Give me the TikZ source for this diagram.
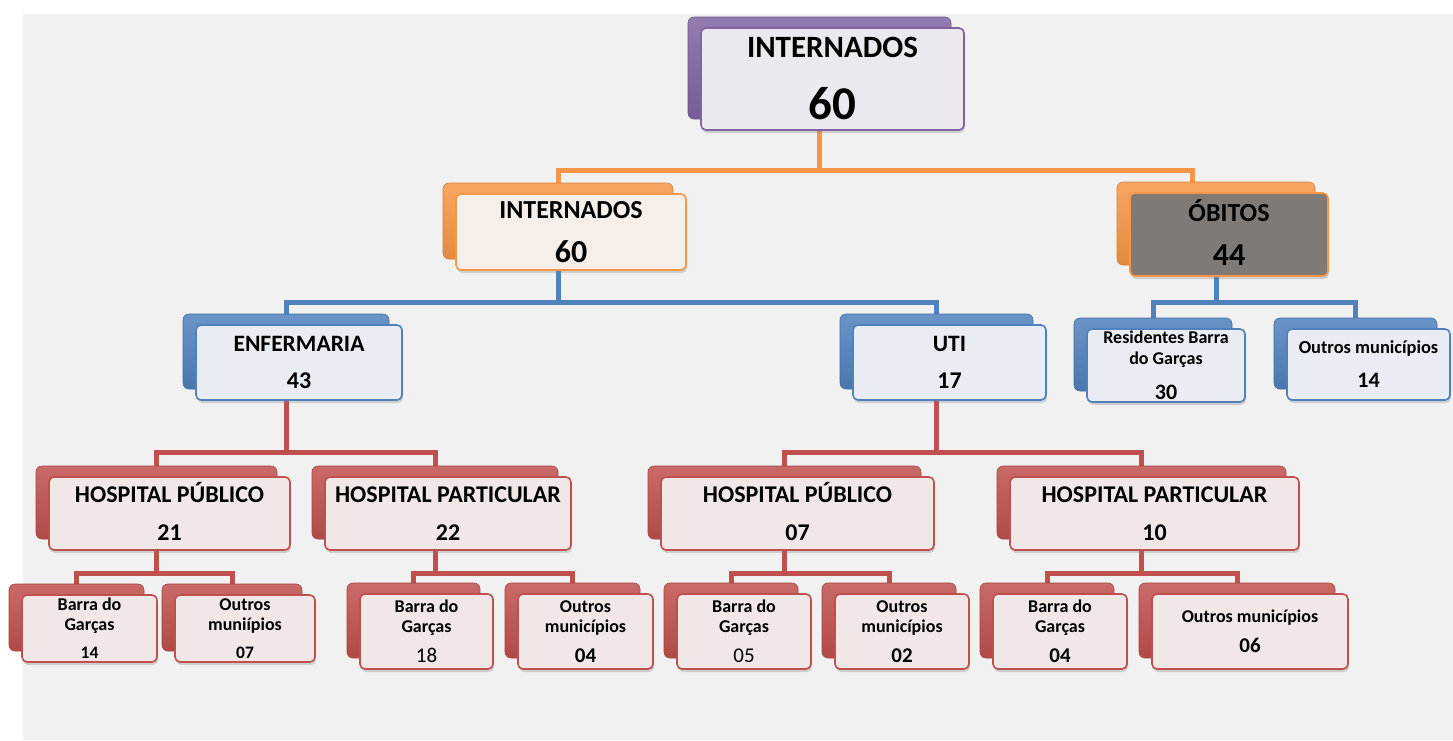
\documentclass[tikz,border=0pt]{standalone}
\usepackage{fontspec}
\setmainfont{Carlito}
\usepackage{tikz}
\usetikzlibrary{calc, backgrounds, shadows}

\definecolor{fundo}{HTML}{F1F1F1}
\definecolor{roxo}{HTML}{8064A2}
\definecolor{roxoclaro}{HTML}{EBE8F0}
\definecolor{laranja}{HTML}{F79646}
\definecolor{laranjaclaro}{HTML}{F6EEE9}
\definecolor{azul}{HTML}{4F81BD}
\definecolor{azulclaro}{HTML}{E9EDF3}
\definecolor{vermelho}{HTML}{C0504D}
\definecolor{vermelhoclaro}{HTML}{F2E7E7}
\definecolor{cinza}{HTML}{7F7A76}

\begin{document}
\begin{tikzpicture}[x=1pt, y=-1pt,
  tam/.style 2 args={minimum width=#1, minimum height=#2},
  atras/.style={rectangle, rounded corners=6pt, draw=#1!85!black, line width=0.6pt,
    top color=#1!85!white, bottom color=#1!92!black, inner sep=0pt},
  frente/.style 2 args={rectangle, rounded corners=5pt, draw=#1, line width=1.6pt,
    fill=#2, align=center, inner sep=0pt,
    drop shadow={opacity=0.3, shadow xshift=1pt, shadow yshift=-3pt}},
  txt/.style 2 args={font=\bfseries\fontsize{#1}{#2}\selectfont},
  liga/.style={line width=5pt, color=#1}]
\useasboundingbox (0,0) rectangle (1453,740);
% Nivel 1
\node[atras=roxo, tam={263}{102}] (internados) at (819.5,68) {};
\node[frente={roxo}{roxoclaro}, tam={263}{102}, txt={31}{62}] (internados-f) at ($(internados)+(13,11)$)
  {INTERNADOS\\{\fontsize{47}{47}\selectfont 60}};
% Nivel 2
\node[atras=laranja, tam={230}{76}] (internados2) at (558,221) {};
\node[frente={laranja}{laranjaclaro}, tam={230}{76}, txt={26}{44}] (internados2-f) at ($(internados2)+(13,11)$)
  {INTERNADOS\\{\fontsize{32}{32}\selectfont 60}};
\node[atras=laranja, tam={198}{83}] (obitos) at (1216,223.5) {};
\node[frente={laranja}{cinza}, tam={198}{83}, txt={26}{44}] (obitos-f) at ($(obitos)+(13,11)$)
  {\smash{Ó}BITOS\\{\fontsize{32}{32}\selectfont 44}};
% Nivel 3
\node[atras=azul, tam={206}{75}] (enfermaria) at (286,351.5) {};
\node[frente={azul}{azulclaro}, tam={206}{75}, txt={23.5}{37}] (enfermaria-f) at ($(enfermaria)+(13,11)$)
  {ENFERMARIA\\{\fontsize{24}{24}\selectfont 43}};
\node[atras=azul, tam={193}{75}] (uti) at (936.5,351.5) {};
\node[frente={azul}{azulclaro}, tam={193}{75}, txt={23.5}{37}] (uti-f) at ($(uti)+(13,11)$)
  {UTI\\{\fontsize{24}{24}\selectfont 17}};
\node[atras=azul, tam={158}{73}] (residentes) at (1153,354.5) {};
\node[frente={azul}{azulclaro}, tam={158}{73}, txt={18}{21}] (residentes-f) at ($(residentes)+(13,11)$)
  {Residentes Barra\\do Garças\\[14pt]{\fontsize{22}{22}\selectfont 30}};
\node[atras=azul, tam={163}{71}] (outrosob) at (1355.5,353.5) {};
\node[frente={azul}{azulclaro}, tam={163}{71}, txt={18.4}{34}] (outrosob-f) at ($(outrosob)+(13,11)$)
  {Outros municípios\\{\fontsize{22}{22}\selectfont 14}};
% Nivel 4
\node[atras=vermelho, tam={241}{73}] (pubenf) at (156.5,502.5) {};
\node[frente={vermelho}{vermelhoclaro}, tam={241}{73}, txt={24}{38}] (pubenf-f) at ($(pubenf)+(13,11)$)
  {HOSPITAL P\smash{Ú}BLICO\\21};
\node[atras=vermelho, tam={246}{73}] (partenf) at (435,502.5) {};
\node[frente={vermelho}{vermelhoclaro}, tam={246}{73}, txt={24}{38}] (partenf-f) at ($(partenf)+(13,11)$)
  {HOSPITAL PARTICULAR\\22};
\node[atras=vermelho, tam={273}{73}] (pubuti) at (784.5,502.5) {};
\node[frente={vermelho}{vermelhoclaro}, tam={273}{73}, txt={24}{38}] (pubuti-f) at ($(pubuti)+(13,11)$)
  {HOSPITAL P\smash{Ú}BLICO\\07};
\node[atras=vermelho, tam={289}{73}] (partuti) at (1141.5,502.5) {};
\node[frente={vermelho}{vermelhoclaro}, tam={289}{73}, txt={24}{38}] (partuti-f) at ($(partuti)+(13,11)$)
  {HOSPITAL PARTICULAR\\10};
% Nivel 5
\node[atras=vermelho, tam={135}{67}] (barra1) at (76.5,617.5) {};
\node[frente={vermelho}{vermelhoclaro}, tam={135}{67}, txt={18}{20}] (barra1-f) at ($(barra1)+(13,11)$)
  {Barra do\\Garças\\[8pt]{\fontsize{17.5}{17.5}\selectfont 14}};
\node[atras=vermelho, tam={140}{67}] (outros1) at (232,617.5) {};
\node[frente={vermelho}{vermelhoclaro}, tam={140}{67}, txt={18}{20}] (outros1-f) at ($(outros1)+(13,11)$)
  {Outros\\muniípios\\[8pt]{\fontsize{17.5}{17.5}\selectfont 07}};
\node[atras=vermelho, tam={133}{75}] (barra2) at (413.5,620.5) {};
\node[frente={vermelho}{vermelhoclaro}, tam={133}{75}, txt={18}{20}] (barra2-f) at ($(barra2)+(13,11)$)
  {Barra do\\Garças\\[10pt]{\mdseries\fontsize{21}{21}\selectfont 18}};
\node[atras=vermelho, tam={135}{75}] (outros2) at (572.5,620.5) {};
\node[frente={vermelho}{vermelhoclaro}, tam={135}{75}, txt={18}{20}] (outros2-f) at ($(outros2)+(13,11)$)
  {Outros\\municípios\\[10pt]{\fontsize{21}{21}\selectfont 04}};
\node[atras=vermelho, tam={134}{75}] (barra3) at (731,620.5) {};
\node[frente={vermelho}{vermelhoclaro}, tam={134}{75}, txt={18}{20}] (barra3-f) at ($(barra3)+(13,11)$)
  {Barra do\\Garças\\[10pt]{\mdseries\fontsize{21}{21}\selectfont 05}};
\node[atras=vermelho, tam={134}{75}] (outros3) at (889,620.5) {};
\node[frente={vermelho}{vermelhoclaro}, tam={134}{75}, txt={18}{20}] (outros3-f) at ($(outros3)+(13,11)$)
  {Outros\\municípios\\[10pt]{\fontsize{21}{21}\selectfont 02}};
\node[atras=vermelho, tam={134}{75}] (barra4) at (1047,620.5) {};
\node[frente={vermelho}{vermelhoclaro}, tam={134}{75}, txt={18}{20}] (barra4-f) at ($(barra4)+(13,11)$)
  {Barra do\\Garças\\[10pt]{\fontsize{21}{21}\selectfont 04}};
\node[atras=vermelho, tam={196}{75}] (outros4) at (1237,620.5) {};
\node[frente={vermelho}{vermelhoclaro}, tam={196}{75}, txt={18}{30}] (outros4-f) at ($(outros4)+(13,11)$)
  {Outros municípios\\{\fontsize{21}{21}\selectfont 06}};
% Linhas de ligacao
\coordinate (b1) at (0,170);
\coordinate (b2) at (0,302);
\coordinate (b3) at (0,452);
\coordinate (b4) at (0,573);
\coordinate (obitos-in) at ($(obitos.north)+(-24,0)$);
\begin{scope}[on background layer]
\fill[fundo] (23,14) rectangle (1453,740);
\draw[liga=laranja] (internados) -- (internados |- b1) -| (internados2);
\draw[liga=laranja] (internados |- b1) -| (obitos-in);
\draw[liga=azul] (internados2) -- (internados2 |- b2) -| (enfermaria);
\draw[liga=azul] (internados2 |- b2) -| (uti);
\draw[liga=azul] (obitos) -- (obitos |- b2) -| (residentes);
\draw[liga=azul] (obitos |- b2) -| (outrosob);
\draw[liga=vermelho] (enfermaria) -- (enfermaria |- b3) -| (pubenf);
\draw[liga=vermelho] (enfermaria |- b3) -| (partenf);
\draw[liga=vermelho] (uti) -- (uti |- b3) -| (pubuti);
\draw[liga=vermelho] (uti |- b3) -| (partuti);
\draw[liga=vermelho] (pubenf) -- (pubenf |- b4) -| (barra1);
\draw[liga=vermelho] (pubenf |- b4) -| (outros1);
\draw[liga=vermelho] (partenf) -- (partenf |- b4) -| (barra2);
\draw[liga=vermelho] (partenf |- b4) -| (outros2);
\draw[liga=vermelho] (pubuti) -- (pubuti |- b4) -| (barra3);
\draw[liga=vermelho] (pubuti |- b4) -| (outros3);
\draw[liga=vermelho] (partuti) -- (partuti |- b4) -| (barra4);
\draw[liga=vermelho] (partuti |- b4) -| (outros4);
\end{scope}
\end{tikzpicture}
\end{document}
